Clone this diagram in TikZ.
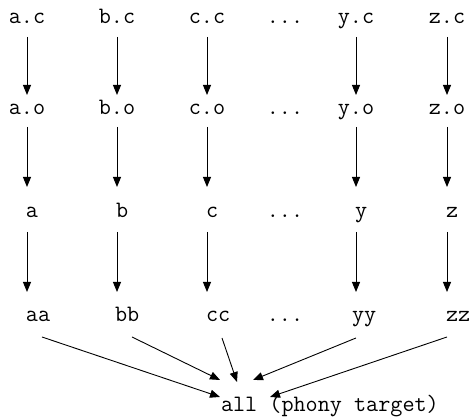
\documentclass[tikz,border=0pt]{standalone}
\usetikzlibrary{arrows.meta}
\tikzset{
  lbl/.style={inner sep=0pt, outer sep=0pt, font=\fontsize{23.5}{28}\ttfamily},
  ctr/.style={lbl, anchor=base},
  lft/.style={lbl, anchor=base west},
  arr/.style={line width=0.9pt, -{Triangle[width=8pt,length=10pt]}}
}
\begin{document}
\begin{tikzpicture}[x=1pt,y=1pt]
\useasboundingbox (0,0) rectangle (472,419);
% sources
\node[ctr] (ac) at (27,395) {a.c};
\node[ctr] (bc) at (117,395) {b.c};
\node[ctr] (cc) at (207,395) {c.c};
\node[ctr] (dc) at (285,395) {...};
\node[ctr] (yc) at (356,395) {y.c};
\node[ctr] (zc) at (447,395) {z.c};
% objects
\node[ctr] (ao) at (27,304) {a.o};
\node[ctr] (bo) at (117,304) {b.o};
\node[ctr] (co) at (207,304) {c.o};
\node[ctr] (do) at (285,304) {...};
\node[ctr] (yo) at (356,304) {y.o};
\node[ctr] (zo) at (447,304) {z.o};
% executables
\node[lft] (a) at (26,201) {a};
\node[lft] (b) at (116,201) {b};
\node[lft] (c) at (206,201) {c};
\node[ctr] (d) at (285,201) {...};
\node[lft] (y) at (355,201) {y};
\node[lft] (z) at (446,201) {z};
% second-level targets
\node[lft] (aa) at (26,97) {aa};
\node[lft] (bb) at (115,97) {bb};
\node[lft] (cx) at (206,97) {cc};
\node[ctr] (dd) at (285,97) {...};
\node[lft] (yy) at (352,97) {yy};
\node[lft] (zz) at (446,97) {zz};
% final target
\node[lft] (all) at (221,7) {all (phony target)};
% .c -> .o
\foreach \n in {a,b,c,y,z}{
  \draw[arr] ([yshift=-13pt]\n c.base) -- ([yshift=20pt]\n o.base);
}
% .o -> executable
\draw[arr] ([yshift=-12pt]ao.base) -- ([shift={(1pt,31pt)}]a.base west);
\draw[arr] ([yshift=-12pt]bo.base) -- ([shift={(1pt,31pt)}]b.base west);
\draw[arr] ([yshift=-12pt]co.base) -- ([shift={(1pt,31pt)}]c.base west);
\draw[arr] ([yshift=-12pt]yo.base) -- ([shift={(1pt,31pt)}]y.base west);
\draw[arr] ([yshift=-12pt]zo.base) -- ([shift={(1pt,31pt)}]z.base west);
% executable -> second-level target
\draw[arr] ([shift={(1pt,-14pt)}]a.base west) -- ([shift={(1pt,30pt)}]aa.base west);
\draw[arr] ([shift={(1pt,-14pt)}]b.base west) -- ([shift={(2pt,30pt)}]bb.base west);
\draw[arr] ([shift={(1pt,-14pt)}]c.base west) -- ([shift={(1pt,30pt)}]cx.base west);
\draw[arr] ([shift={(1pt,-14pt)}]y.base west) -- ([shift={(4pt,30pt)}]yy.base west);
\draw[arr] ([shift={(1pt,-14pt)}]z.base west) -- ([shift={(1pt,30pt)}]zz.base west);
% everything -> all
\draw[arr] ([shift={(16pt,-15pt)}]aa.base west) -- ([shift={(-1pt,15pt)}]all.base west);
\draw[arr] ([shift={(17pt,-15pt)}]bb.base west) -- ([shift={(-1pt,32pt)}]all.base west);
\draw[arr] ([shift={(16pt,-16pt)}]cx.base west) -- ([shift={(16pt,30pt)}]all.base west);
\draw[arr] ([shift={(4pt,-16pt)}]yy.base west) -- ([shift={(32pt,32pt)}]all.base west);
\draw[arr] ([shift={(1pt,-15pt)}]zz.base west) -- ([shift={(49pt,15pt)}]all.base west);
\end{tikzpicture}
\end{document}
